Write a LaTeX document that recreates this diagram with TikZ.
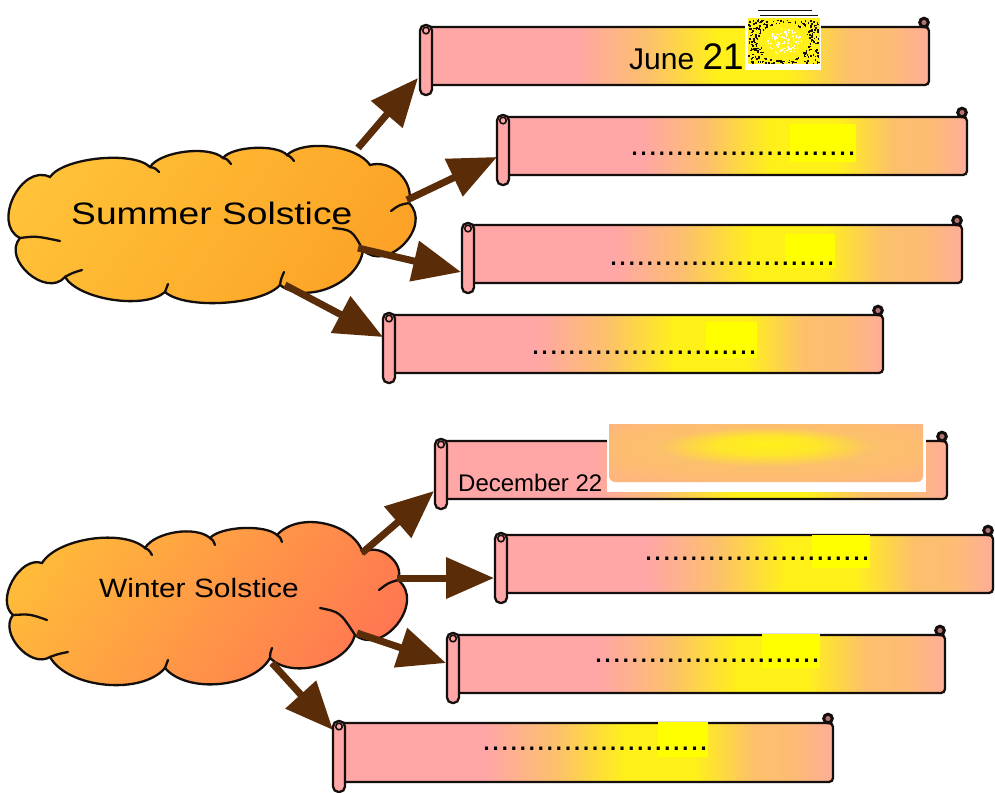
\documentclass[tikz,border=0pt]{standalone}
\usepackage{fontspec}
\setmainfont{Liberation Sans}
\usepackage{graphicx}
\usetikzlibrary{arrows.meta}

\definecolor{scrpink}{RGB}{255,166,166}
\definecolor{scrorange}{RGB}{252,192,108}
\definecolor{scryellow}{RGB}{255,240,25}
\definecolor{scrpeach}{RGB}{255,182,125}
\definecolor{hilite}{RGB}{255,255,0}
\definecolor{arrowbrown}{RGB}{90,45,8}
\definecolor{outl}{RGB}{20,14,12}
\definecolor{sumA}{RGB}{255,194,56}
\definecolor{sumB}{RGB}{252,162,38}
\definecolor{winA}{RGB}{255,186,58}
\definecolor{winB}{RGB}{255,118,82}

% horizontal fill of a scroll: pink, warming to yellow, back to pink
\pgfdeclarehorizontalshading{scrollfill}{100bp}{%
  color(0bp)=(scrpink); color(25bp)=(scrpink); color(40bp)=(scrpink);
  color(47bp)=(scrorange); color(54bp)=(scryellow); color(61bp)=(scryellow);
  color(67bp)=(scrorange); color(71bp)=(scrorange!85!scrpink);
  color(75bp)=(scrpink!75!scrorange); color(100bp)=(scrpink!75!scrorange)}
% glowing panel over the December scroll
\pgfdeclareradialshading{panelglow}{\pgfpoint{0bp}{8bp}}{%
  color(0bp)=(scryellow); color(8bp)=(scryellow!80!scrorange);
  color(17bp)=(scrorange); color(26bp)=(scrorange!60!scrpeach);
  color(32bp)=(scrpeach); color(50bp)=(scrpeach)}

\tikzset{
  scrollline/.style={draw=outl, line width=2.3pt},
  cloudline/.style={draw=outl, line width=2.3pt, line cap=round},
  arr/.style={draw=arrowbrown, line width=7pt,
    -{Triangle[length=48pt, width=40pt]}},
  dots/.style={inner sep=0pt, anchor=base west, font=\fontsize{32.5}{32.5}\selectfont},
}

% #1 name, #2 left x, #3 top y, #4 right x, #5 bottom y
\newcommand\scrollbanner[5]{%
  \shadedraw[shading=scrollfill, scrollline, rounded corners=4pt]
    (#2+5,#3) rectangle (#4,#5);
  \filldraw[scrollline, fill=scrpink, rounded corners=5.5pt]
    (#2,#3-2) rectangle (#2+12,#5+10);
  \draw[scrollline, line width=1.6pt] (#2+6,#3+3.5) circle (3.3pt);
  \filldraw[scrollline, fill=scrpink!70!black, line width=3pt] (#4-5,#3-4.5) circle (4.3pt);
  \coordinate (#1) at (#2,#3);
}

\begin{document}
\begin{tikzpicture}[x=1pt, y=-1pt]
\useasboundingbox (0,0) rectangle (995,792);
\fill[white] (0,0) rectangle (995,792);

% ---------- clouds ----------
\path[cloudline, left color=sumA, right color=sumB, shading angle=55]
  (20,238)
  to[bend left=90, looseness=1.2] (50,177)
  to[bend left=50, looseness=0.6] (150,167)
  to[bend left=50, looseness=0.66] (223,158)
  to[bend left=50, looseness=0.6] (287,155)
  to[bend left=50, looseness=0.72] (370,165)
  to[bend left=60, looseness=1.05] (409,203)
  to[bend left=90, looseness=1.3] (363,250)
  to[bend left=60, looseness=0.95] (280,285)
  to[bend left=45, looseness=0.6] (165,292)
  to[bend left=50, looseness=0.68] (65,277)
  to[bend left=90, looseness=1.22] cycle;
\draw[cloudline] (20,238) .. controls (36,236) .. (60,241);
\draw[cloudline] (150,167) .. controls (155,168) .. (159,172);
\draw[cloudline] (223,158) .. controls (227,159) .. (231,164);
\draw[cloudline] (287,155) .. controls (291,157) .. (294,161);
\draw[cloudline] (409,203) .. controls (399,205) .. (391,211);
\draw[cloudline] (333,228) .. controls (352,230) .. (363,250);
\draw[cloudline] (280,285) .. controls (281,279) .. (284,272);
\draw[cloudline] (165,292) .. controls (166,288) .. (168,284);
\draw[cloudline] (65,277) .. controls (72,273) .. (82,270);
\node[inner sep=0pt, anchor=base west, font=\fontsize{31}{31}\selectfont]
  (summer) at (71,224) {\scalebox{1.2}[1]{Summer Solstice}};

\path[cloudline, left color=winA, right color=winB, shading angle=55]
  (13,615)
  to[bend left=80, looseness=1.0] (42,563)
  to[bend left=50, looseness=0.72] (145,548)
  to[bend left=50, looseness=0.74] (210,538)
  to[bend left=45, looseness=0.61] (277,535)
  to[bend left=60, looseness=0.94] (363,553)
  to[bend left=75, looseness=1.1] (398,580)
  to[bend left=90, looseness=1.3] (355,635)
  to[bend left=60, looseness=0.9] (270,658)
  to[bend left=55, looseness=0.83] (165,668)
  to[bend left=55, looseness=0.8] (50,657)
  to[bend left=80, looseness=1.05] cycle;
\draw[cloudline] (13,615) .. controls (30,614) .. (47,620);
\draw[cloudline] (145,548) .. controls (149,550) .. (152,555);
\draw[cloudline] (210,538) .. controls (213,540) .. (215,545);
\draw[cloudline] (277,535) .. controls (280,537) .. (282,542);
\draw[cloudline] (398,580) .. controls (388,583) .. (379,590);
\draw[cloudline] (320,608) .. controls (340,612) .. (355,635);
\draw[cloudline] (270,658) .. controls (270,654) .. (272,648);
\draw[cloudline] (165,668) .. controls (166,664) .. (168,660);
\draw[cloudline] (50,657) .. controls (58,654) .. (68,652);
\node[inner sep=0pt, anchor=base west, font=\fontsize{26.5}{26.5}\selectfont]
  (winter) at (99,597) {\scalebox{1.13}[1]{Winter Solstice}};

% ---------- arrow ends ----------
\coordinate (sa1) at (358,148);  \coordinate (ta1) at (418,78);
\coordinate (sa2) at (407,200);  \coordinate (ta2) at (497,157);
\coordinate (sa3) at (358,248);  \coordinate (ta3) at (461,272);
\coordinate (sa4) at (285,285);  \coordinate (ta4) at (383,337);
\coordinate (sb1) at (362,553);  \coordinate (tb1) at (434,491);
\coordinate (sb2) at (397,578);  \coordinate (tb2) at (494,578);
\coordinate (sb3) at (357,633);  \coordinate (tb3) at (446,663);
\coordinate (sb4) at (272,663);  \coordinate (tb4) at (333,730);
\foreach \s/\t in {sa1/ta1, sa2/ta2, sa3/ta3, sa4/ta4,
                   sb1/tb1, sb2/tb2, sb3/tb3, sb4/tb4}
  \draw[arr] (\s) -- (\t);

% ---------- scrolls ----------
\scrollbanner{s1}{420}{27}{929}{85}
\scrollbanner{s2}{497}{117}{967}{175}
\scrollbanner{s3}{462}{225}{962}{283}
\scrollbanner{s4}{383}{315}{883}{373}
\scrollbanner{s5}{435}{441}{947}{499}
\scrollbanner{s6}{495}{535}{993}{593}
\scrollbanner{s7}{447}{635}{945}{693}
\scrollbanner{s8}{333}{723}{833}{782}

% ---------- texts on the scrolls ----------
\node[inner sep=0pt, anchor=base west] (june) at (629,70)
  {{\fontsize{30}{30}\selectfont June }{\fontsize{37}{37}\selectfont 21}};

% small dithered sun beside the date
\fill[white] (745,8) rectangle (821,70);
\fill[scryellow] (748,18) rectangle (820,64);
\draw[outl, line width=1.6pt] (758,10.5) -- (812,10.5);
\draw[outl, line width=1.4pt] (760,15.5) -- (818,15.5);
\pgfmathsetseed{42}
\foreach \i in {1,...,420}{%
  \pgfmathsetmacro\px{748+70*rnd}%
  \pgfmathsetmacro\py{19+44*rnd}%
  \pgfmathsetmacro\dd{veclen(\px-784,(\py-41)*1.3)}%
  \ifdim\dd pt>24pt
    \fill[outl] (\px,\py) rectangle ++(1.6,1.6);
  \else\ifdim\dd pt<17pt
    \fill[white] (\px,\py) rectangle ++(1.4,1.4);
  \fi\fi
}

\node[inner sep=0pt, anchor=base west, font=\fontsize{24}{24}\selectfont]
  (december) at (458,491) {December 22};
\fill[white] (607,423) rectangle (926,492);
\shade[shading=panelglow]
  (609,424) -- (923,424) [rounded corners=6pt] -- (923,482) -- (609,482) [sharp corners] -- cycle;

% highlighted dotted lines
\fill[hilite] (790,124) rectangle (856,162);
\node[dots] (d2) at (630,155) {.........................};
\fill[hilite] (785,234) rectangle (835,268);
\node[dots] (d3) at (609,265) {.........................};
\fill[hilite] (706,322) rectangle (757,358);
\node[dots] (d4) at (531,354) {.........................};
\fill[hilite] (812,535) rectangle (870,568);
\node[dots] (d6) at (644,560) {.........................};
\fill[hilite] (762,634) rectangle (820,668);
\node[dots] (d7) at (594,662) {.........................};
\fill[hilite] (658,722) rectangle (708,757);
\node[dots] (d8) at (482,750) {.........................};
\end{tikzpicture}
\end{document}
